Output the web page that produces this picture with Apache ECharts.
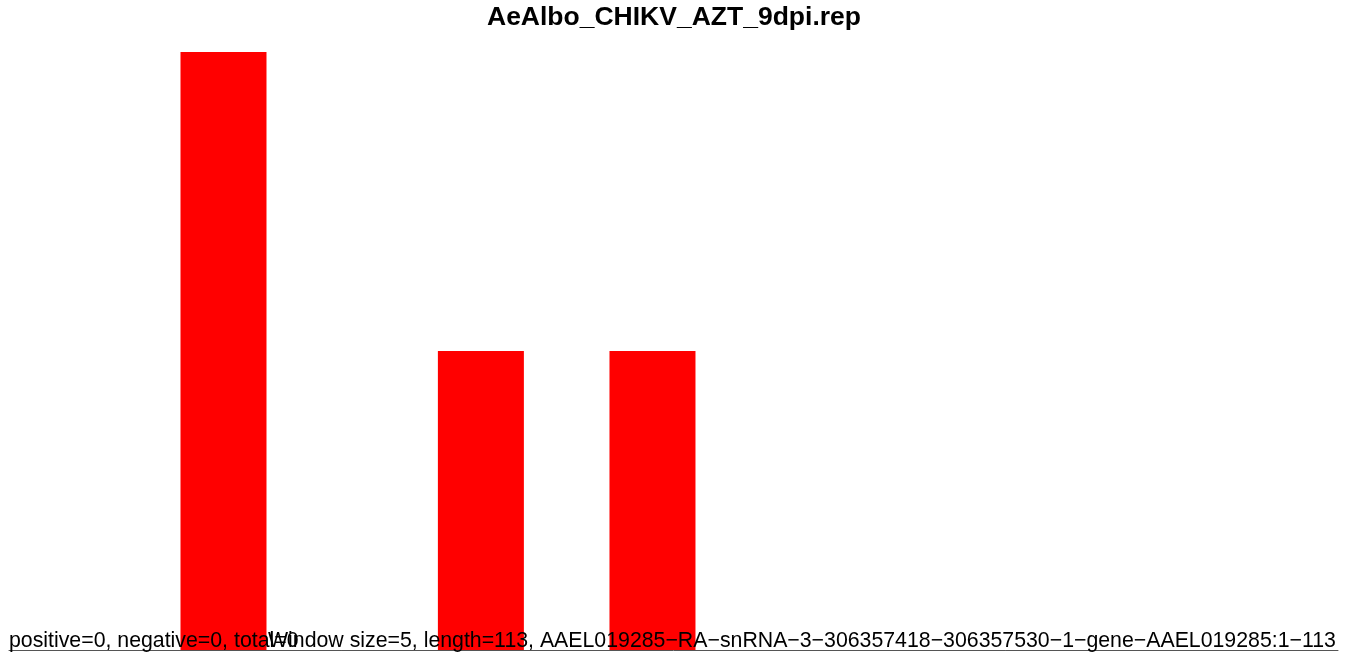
<!DOCTYPE html>
<html><head><meta charset="utf-8">
<script src="https://cdn.jsdelivr.net/npm/echarts@6/dist/echarts.min.js"></script>
<style>html,body{margin:0;padding:0;background:#fff}#c{width:1350px;height:661px}</style>
</head><body><div id="c"></div>
<script>
const titleText = "AeAlbo_CHIKV_AZT_9dpi.rep";
const leftNote = "positive=0, negative=0, total=0";
const rightNote = "Window size=5, length=113, AAEL019285\u2212RA\u2212snRNA\u22123\u2212306357418\u2212306357530\u22121\u2212gene\u2212AAEL019285:1\u2212113";
const barPositions = [2.5, 5.5, 7.5];
const barValues = [2, 1, 1];

const chart = echarts.init(document.getElementById('c'), null, {renderer: 'canvas'});
chart.setOption({
  animation: false,
  backgroundColor: '#ffffff',
  grid: {left: 9, right: 12, top: 52, bottom: 11, containLabel: false},
  xAxis: {
    type: 'value', min: 0, max: 15.49,
    axisLine: {show: true, onZero: false, lineStyle: {color: '#555', width: 1}},
    axisTick: {show: false}, axisLabel: {show: false}, splitLine: {show: false}
  },
  yAxis: {
    type: 'value', min: 0, max: 2,
    axisLine: {show: false}, axisTick: {show: false}, axisLabel: {show: false}, splitLine: {show: false}
  },
  series: [{
    type: 'bar', barWidth: 86,
    itemStyle: {color: '#ff0000'},
    data: barPositions.map((p, i) => [p, barValues[i]])
  }],
  graphic: [
    {type: 'text', x: 674, y: 4, z: 10, style: {text: titleText, font: 'bold 26.5px "Liberation Sans"', fill: '#000', textAlign: 'center'}},
    {type: 'text', x: 9, y: 631, z: 10, style: {text: leftNote, font: '21.3px "Liberation Sans"', fill: '#000'}},
    {type: 'text', x: 268, y: 631, z: 10, style: {text: rightNote, font: '21.3px "Liberation Sans"', fill: '#000'}}
  ]
});
</script></body></html>
